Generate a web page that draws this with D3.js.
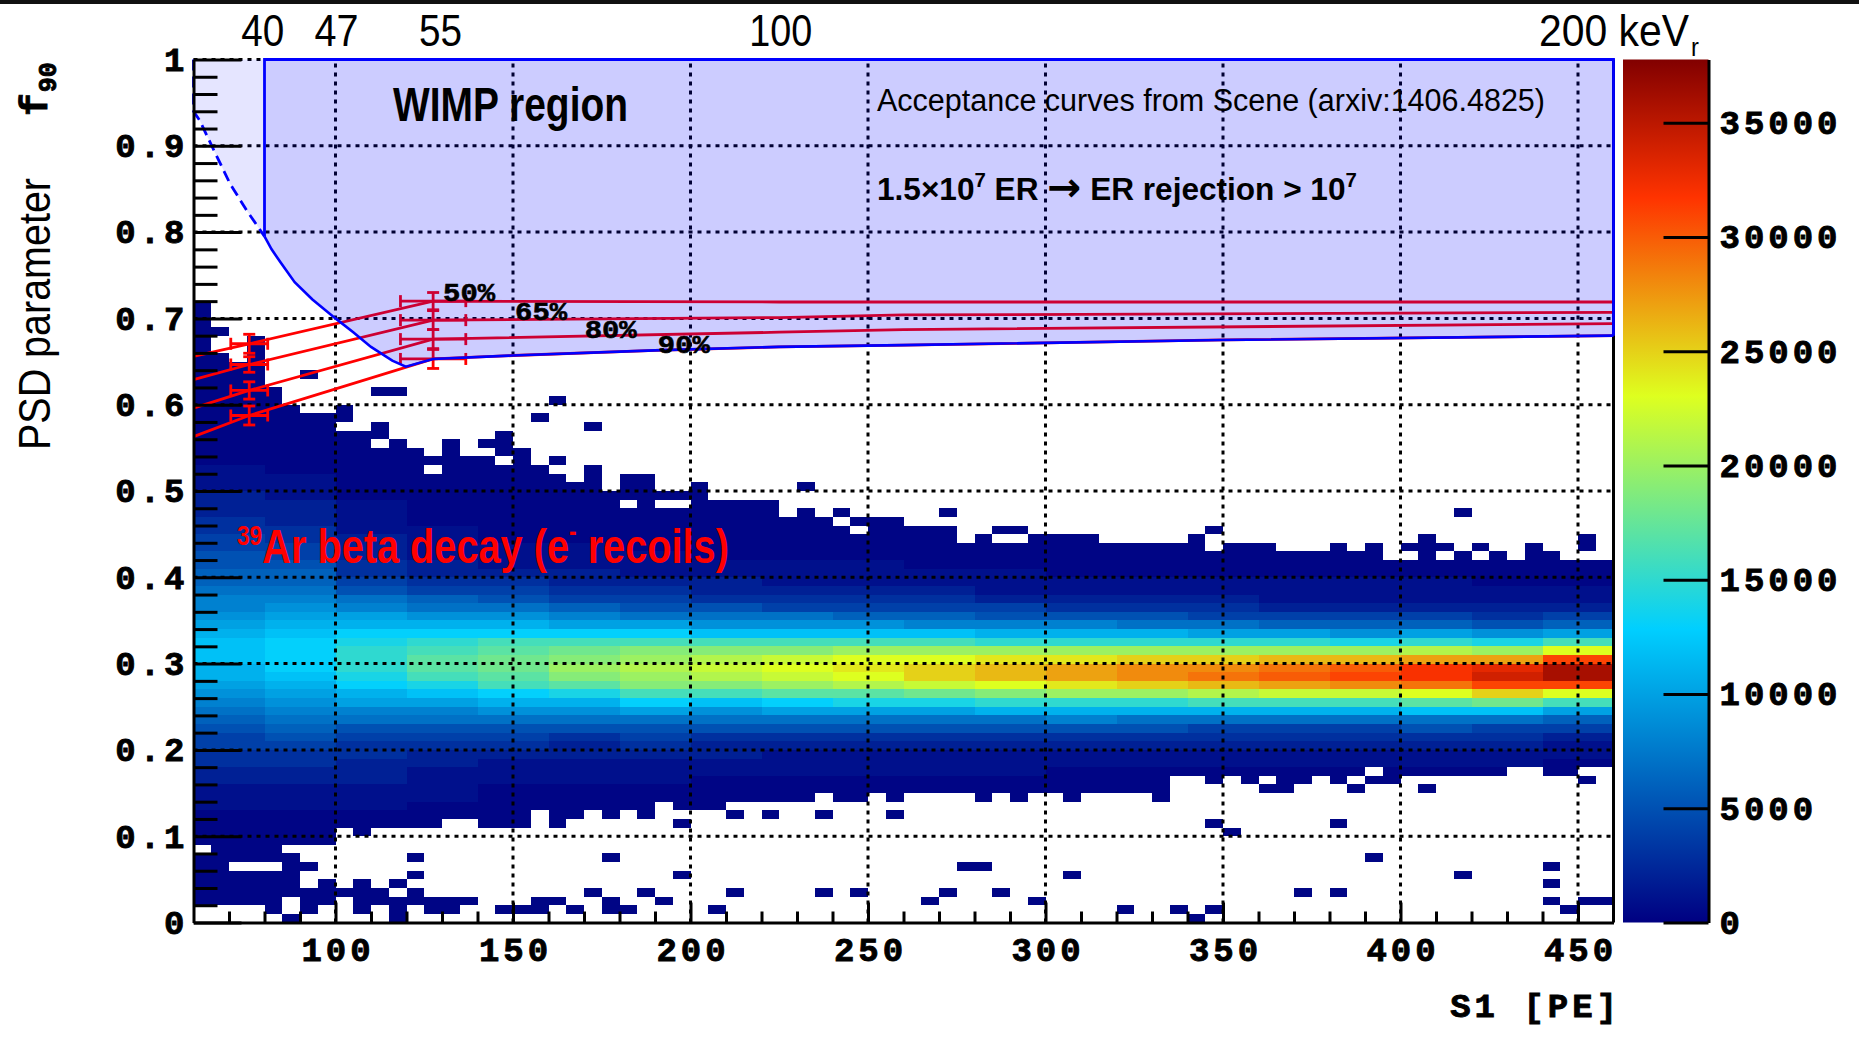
<!DOCTYPE html>
<html>
<head>
<meta charset="utf-8">
<script src="https://cdn.jsdelivr.net/npm/d3@7/dist/d3.min.js"></script>
<style>
html,body{margin:0;padding:0;background:#fff;}
svg{display:block;}
</style>
</head>
<body>
<svg id="chart" width="1859" height="1055" xmlns="http://www.w3.org/2000/svg"></svg>
<script>
// ================= DATA =================
const s1Domain = [60, 460];
const f90Domain = [0, 1];
const s1BinWidth = 5;
const f90BinWidth = 0.01;
const nS1Bins = 80;
const nF90Bins = 100;

const xTickValues = [100, 150, 200, 250, 300, 350, 400, 450];
const yTickValues = [0, 0.1, 0.2, 0.3, 0.4, 0.5, 0.6, 0.7, 0.8, 0.9, 1];
const yGridValues = [0.1, 0.2, 0.3, 0.4, 0.5, 0.6, 0.7, 0.8, 0.9];
const colorTickValues = [0, 5000, 10000, 15000, 20000, 25000, 30000, 35000];
const colorMax = 37770;

// ROOT-like palette stops
const paletteStops = [0, 0.34, 0.61, 0.84, 1.0];
const paletteColors = ["rgb(0,0,130)", "rgb(0,207,255)", "rgb(222,255,31)", "rgb(255,51,0)", "rgb(130,0,0)"];

// Upper / lower edge (highest / lowest filled f90 bin index) of the ER band, per S1 bin
const bandTop = [71,65,64,67,61,59,58,58,59,56,57,55,54,53,55,53,55,56,54,52,
                 51,50,52,49,51,51,49,49,50,48,48,48,48,46,47,46,47,46,46,46,
                 45,45,45,43,44,45,45,44,44,44,44,43,43,43,43,43,44,45,43,43,
                 43,42,42,42,43,42,43,41,43,44,43,42,43,42,41,43,42,41,44,41];
const bandBottom = [9,9,9,9,9,9,9,9,11,10,11,11,11,11,12,12,11,11,11,13,
                    11,12,13,12,13,12,14,13,13,13,14,14,14,14,14,15,14,14,15,14,
                    15,15,15,15,14,15,14,15,15,14,15,15,15,15,14,17,17,16,17,16,
                    15,15,16,17,16,15,16,16,17,17,17,17,17,17,18,18,17,17,18,18];

// Empty bins inside the band [s1Bin, f90Bin]
const holeCells = [[8,57],[10,55],[13,52],[16,54],[17,53],[24,48],[26,48],[27,48],[36,46],[37,45],
                   [45,44],[46,44],[57,44],[57,43],[68,42],[70,42],[72,42],[78,42],[60,16],[65,16],[66,17]];

// Isolated filled bins outside the band [s1Bin, f90Bin]
const extraCells = [
  [1,68],[6,63],[10,61],[11,61],[19,58],[20,60],[20,53],[22,57],[34,50],[42,47],[71,47],
  [69,15],[78,16],[30,12],[32,12],[35,12],[39,12],[27,11],[57,11],[64,11],[58,10],
  [1,8],[2,8],[3,8],[4,8],
  [0,7],[1,7],[2,7],[3,7],[4,7],[5,7],[12,7],[23,7],[66,7],
  [0,6],[1,6],[5,6],[6,6],[43,6],[44,6],[76,6],
  [0,5],[1,5],[2,5],[3,5],[4,5],[5,5],[12,5],[27,5],[49,5],[71,5],
  [0,4],[1,4],[2,4],[3,4],[4,4],[5,4],[7,4],[9,4],[11,4],[76,4],
  [0,3],[1,3],[2,3],[3,3],[4,3],[5,3],[6,3],[7,3],[8,3],[9,3],[10,3],[12,3],[22,3],[25,3],[30,3],[35,3],[37,3],[42,3],[45,3],[62,3],[64,3],
  [0,2],[1,2],[2,2],[3,2],[4,2],[6,2],[7,2],[9,2],[10,2],[11,2],[12,2],[13,2],[14,2],[15,2],[19,2],[20,2],[23,2],[26,2],[41,2],[47,2],[76,2],[78,2],[79,2],
  [4,1],[6,1],[9,1],[11,1],[13,1],[14,1],[17,1],[18,1],[19,1],[21,1],[23,1],[24,1],[29,1],[52,1],[55,1],[57,1],[77,1],
  [5,0],[11,0],[56,0]
];

// Band core counts in thousands (one char per group of 4 S1 bins), rows from f90 bin 52 down to 13
const levelChars = "0123456789abcdefghijklmnopqrstuvwxyzAB";
const coreTopBin = 52;
const coreGroupBins = 4;
const coreRows = [
  "10000000000000000000", // 52
  "11000000000000000000",
  "11000000000000000000", // 50
  "21000000000000000000",
  "22100000000000000000",
  "22100000000000000000",
  "32100000000000000000",
  "33110000000000000000", // 45
  "43210000000000000000",
  "44211100000000000000",
  "54211110000000000000",
  "55321111110000000000",
  "66322211111100000000", // 40
  "66433222111111111100",
  "77544332222111111111",
  "88765443333222211111",
  "89877655444433322222",
  "9aa99877766555444434", // 35
  "abbbbaa9998887766656",
  "bcdddddccccbbbaa9a9a",
  "cdefgggggggfffffefeg",
  "cdfghijjjkkkkkkkklkn",
  "cdfhijklmnnooppqqrrv", // 30
  "bdfhiklmnopqrsstuwxA",
  "bceghjklmnpqrstuvwyA",
  "abdeghjjklmnopqrstvv",
  "9abcdegghhijkklmmnpn",
  "89aabbdcdeefffggghig", // 25
  "788899a9aaabbbbbbcca",
  "67777777777787777776",
  "56555555555555444544",
  "45444343333333333332",
  "44333232222222222221", // 20
  "33322222111111111111",
  "33221111111111111110",
  "22211111111100000000",
  "22211110000000000000",
  "11110000000000000000", // 15
  "11110000000000000000",
  "11100000000000000000"  // 13
];
const lowCount = 300;

// Acceptance curves (S1, f90)
const accLabels = ["50%", "65%", "80%", "90%"];
const accCurves = [
  [[60,0.656],[75.7,0.6706],[127.5,0.720],[225,0.719],[460,0.719]],
  [[60,0.629],[75.7,0.6466],[127.5,0.698],[225,0.701],[260,0.704],[460,0.707]],
  [[60,0.596],[75.7,0.6165],[127.5,0.676],[225,0.684],[260,0.687],[460,0.694]],
  [[60,0.563],[75.7,0.5875],[127.5,0.653],[150,0.657],[190,0.663],[225,0.667],[260,0.669],[350,0.675],[460,0.680]]
];
// Measured acceptance points with errors
const accPointS1 = [75.7, 127.5];
const accPointS1Err = [5.2, 9.2];
const accPointF90 = [[0.6706,0.6466,0.6165,0.5875],[0.720,0.698,0.676,0.653]];
const accPointF90Err = [[0.011,0.009,0.010,0.011],[0.010,0.011,0.011,0.011]];
const accLabelPos = [[130.3,0.7197],[150.6,0.6976],[170.2,0.6773],[190.8,0.6599]];

// WIMP region boundary (solid, S1 >= 80) and extrapolated dashed part
const wimpBoundary = [[80,0.795],[82,0.780],[84.5,0.765],[88.5,0.742],[93.5,0.722],[100,0.700],[105,0.684],
  [110,0.667],[116,0.651],[119.8,0.644],[127.5,0.653],[150,0.657],[190,0.663],[225,0.667],[260,0.669],[350,0.675],[460,0.680]];
const wimpDashed = [[60,1.0],[60,0.94],[61.8,0.929],[65.6,0.896],[70.3,0.856],[75,0.825],[80,0.795]];
const wimpThresholdS1 = 80;

// Recoil energy labels on top (keVr) at S1 positions
const energyLabels = ["40", "47", "55", "100"];
const energyLabelS1 = [79.5, 100.3, 129.6, 225.4];

// ================= DRAW =================
const SANS = "'Liberation Sans', Arial, Helvetica, sans-serif";
const MONO = "'Liberation Mono', 'Courier New', monospace";

const svg = d3.select("#chart");
svg.append("rect").attr("width", 1859).attr("height", 1055).attr("fill", "#fff");
svg.append("rect").attr("x", 0).attr("y", 0).attr("width", 1859).attr("height", 4).attr("fill", "#111");

const x = d3.scaleLinear().domain(s1Domain).range([193.5, 1613.5]);
const y = d3.scaleLinear().domain(f90Domain).range([922.5, 59.5]);
const color = d3.scaleLinear().domain(paletteStops.map(s => s * colorMax)).range(paletteColors).clamp(true);
const cy = d3.scaleLinear().domain([0, colorMax]).range([922.5, 59.5]);

// ---- histogram cells
const holeSet = new Set(holeCells.map(d => d[0] + "," + d[1]));
const extraSet = new Set(extraCells.map(d => d[0] + "," + d[1]));
const cells = [];
for (let i = 0; i < nS1Bins; i++) {
  for (let j = 0; j < nF90Bins; j++) {
    const key = i + "," + j;
    const inBand = j >= bandBottom[i] && j <= bandTop[i] && !holeSet.has(key);
    if (!inBand && !extraSet.has(key)) continue;
    let count = lowCount;
    const r = coreTopBin - j;
    if (r >= 0 && r < coreRows.length) {
      const lv = levelChars.indexOf(coreRows[r][Math.floor(i / coreGroupBins)]);
      if (lv > 0) count = lv * 1000;
    }
    cells.push({ s1: s1Domain[0] + i * s1BinWidth, f90: j * f90BinWidth, count });
  }
}
svg.append("g").attr("shape-rendering", "crispEdges")
  .selectAll("rect").data(cells).join("rect")
  .attr("x", d => x(d.s1))
  .attr("y", d => y(d.f90 + f90BinWidth))
  .attr("width", d => x(d.s1 + s1BinWidth) - x(d.s1))
  .attr("height", d => y(d.f90) - y(d.f90 + f90BinWidth))
  .attr("fill", d => color(d.count));

// ---- grid
const grid = svg.append("g").attr("stroke", "#000").attr("stroke-width", 3).attr("stroke-dasharray", "4,5").attr("fill", "none");
grid.selectAll("line.gv").data(xTickValues).join("line").attr("class", "gv")
  .attr("x1", d => x(d)).attr("x2", d => x(d)).attr("y1", y(0)).attr("y2", y(1));
grid.selectAll("line.gh").data(yGridValues).join("line").attr("class", "gh")
  .attr("x1", x(60)).attr("x2", x(460)).attr("y1", d => y(d)).attr("y2", d => y(d));
grid.append("line").attr("x1", x(60)).attr("x2", x(wimpThresholdS1)).attr("y1", y(1)).attr("y2", y(1));

// ---- acceptance curves
const line = d3.line().x(d => x(d[0])).y(d => y(d[1]));
const red = "#ff0000";
svg.append("g").selectAll("path").data(accCurves).join("path")
  .attr("d", line).attr("fill", "none").attr("stroke", red).attr("stroke-width", 2.8);
const eb = svg.append("g").attr("stroke", red).attr("stroke-width", 2.8);
accPointS1.forEach((s, p) => {
  accPointF90[p].forEach((v, c) => {
    const e = accPointF90Err[p][c], ds = accPointS1Err[p];
    const xl = x(s - ds), xr = x(s + ds), xc = x(s), yc = y(v), yt = y(v + e), yb = y(v - e);
    eb.append("line").attr("x1", xl).attr("x2", xr).attr("y1", yc).attr("y2", yc);
    eb.append("line").attr("x1", xl).attr("x2", xl).attr("y1", yc - 6).attr("y2", yc + 6);
    eb.append("line").attr("x1", xr).attr("x2", xr).attr("y1", yc - 6).attr("y2", yc + 6);
    eb.append("line").attr("x1", xc).attr("x2", xc).attr("y1", yt).attr("y2", yb);
    eb.append("line").attr("x1", xc - 6).attr("x2", xc + 6).attr("y1", yt).attr("y2", yt);
    eb.append("line").attr("x1", xc - 6).attr("x2", xc + 6).attr("y1", yb).attr("y2", yb);
  });
});

// ---- WIMP region overlays
const lightPoly = [[60,1],[wimpThresholdS1,1]].concat(wimpDashed.slice().reverse().slice(0, -1));
svg.append("path").attr("d", line(lightPoly) + "Z").attr("fill", "rgba(0,0,255,0.1)").attr("stroke", "none");
const mainPoly = [[wimpThresholdS1,1],[460,1]].concat(wimpBoundary.slice().reverse());
svg.append("path").attr("d", line(mainPoly) + "Z").attr("fill", "rgba(0,0,255,0.2)").attr("stroke", "none");

// frame right side
svg.append("line").attr("x1", x(460)).attr("x2", x(460)).attr("y1", y(0)).attr("y2", y(1)).attr("stroke", "#000").attr("stroke-width", 3);

const blue = "#0000ff";
svg.append("path").attr("d", line(wimpBoundary)).attr("fill", "none").attr("stroke", blue).attr("stroke-width", 2.6);
svg.append("path").attr("d", line([[wimpThresholdS1, 0.795],[wimpThresholdS1,1],[460,1],[460,0.680]]))
  .attr("fill", "none").attr("stroke", blue).attr("stroke-width", 2.8);
svg.append("path").attr("d", line(wimpDashed)).attr("fill", "none").attr("stroke", blue).attr("stroke-width", 2.8).attr("stroke-dasharray", "11,6");

// ---- axes
function styleTickText(sel, size) {
  sel.attr("font-family", MONO).attr("font-weight", "bold").attr("font-size", size)
    .attr("letter-spacing", 4).attr("fill", "#000").attr("stroke", "#000").attr("stroke-width", 0.9);
}
const fmtY = v => (v === 0 ? "0" : v === 1 ? "1" : v.toFixed(1));
const gy = svg.append("g").attr("transform", `translate(${x(60)},0)`)
  .call(d3.axisLeft(y).tickValues(yTickValues).tickSizeInner(-48).tickSizeOuter(0).tickPadding(5).tickFormat(fmtY));
gy.select(".domain").attr("stroke", "#000").attr("stroke-width", 3);
gy.selectAll(".tick line").attr("stroke", "#000").attr("stroke-width", 3);
styleTickText(gy.selectAll(".tick text"), 34);
const yMinor = d3.range(0, 1.0001, 0.02).filter(v => Math.abs(Math.round(v * 10) - v * 10) > 1e-6);
const gym = svg.append("g").attr("transform", `translate(${x(60)},0)`)
  .call(d3.axisLeft(y).tickValues(yMinor).tickSizeInner(-24).tickSizeOuter(0).tickFormat(""));
gym.select(".domain").remove();
gym.selectAll(".tick line").attr("stroke", "#000").attr("stroke-width", 3);

const gx = svg.append("g").attr("transform", `translate(0,${y(0)})`)
  .call(d3.axisBottom(x).tickValues(xTickValues).tickSizeInner(-20).tickSizeOuter(0).tickFormat(d3.format("d")));
gx.select(".domain").attr("stroke", "#000").attr("stroke-width", 3);
gx.selectAll(".tick line").attr("stroke", "#000").attr("stroke-width", 3);
styleTickText(gx.selectAll(".tick text"), 34);
gx.selectAll(".tick text").attr("y", 38).attr("dy", 0).attr("dx", 2);
const xMinor = d3.range(70, 460, 10).filter(v => v % 50 !== 0);
const gxm = svg.append("g").attr("transform", `translate(0,${y(0)})`)
  .call(d3.axisBottom(x).tickValues(xMinor).tickSizeInner(-11).tickSizeOuter(0).tickFormat(""));
gxm.select(".domain").remove();
gxm.selectAll(".tick line").attr("stroke", "#000").attr("stroke-width", 3);

// ---- color bar
const defs = svg.append("defs");
const grad = defs.append("linearGradient").attr("id", "pal").attr("x1", 0).attr("y1", 1).attr("x2", 0).attr("y2", 0);
paletteStops.forEach((s, k) => grad.append("stop").attr("offset", s).attr("stop-color", paletteColors[k]));
svg.append("rect").attr("x", 1623).attr("y", cy(colorMax)).attr("width", 1708.5 - 1623)
  .attr("height", cy(0) - cy(colorMax)).attr("fill", "url(#pal)");
const gc = svg.append("g").attr("transform", "translate(1708.5,0)")
  .call(d3.axisRight(cy).tickValues(colorTickValues).tickSizeInner(-45).tickSizeOuter(0).tickPadding(11).tickFormat(d3.format("d")));
gc.select(".domain").attr("stroke", "#000").attr("stroke-width", 3);
gc.selectAll(".tick line").attr("stroke", "#000").attr("stroke-width", 3);
styleTickText(gc.selectAll(".tick text"), 34);

// ---- texts
function txt(str, o) {
  const t = svg.append("text").attr("x", o.x).attr("y", o.y)
    .attr("font-family", o.family || SANS).attr("font-size", o.size)
    .attr("font-weight", o.weight || "normal").attr("fill", o.fill || "#000")
    .attr("text-anchor", o.anchor || "start").text(str);
  if (o.length) t.attr("textLength", o.length).attr("lengthAdjust", "spacingAndGlyphs");
  if (o.transform) t.attr("transform", o.transform);
  if (o.ls) t.attr("letter-spacing", o.ls);
  if (o.stroke) t.attr("stroke", o.fill || "#000").attr("stroke-width", o.stroke);
  return t;
}

// top energy labels
const energyLabelWidth = [43, 44, 43, 63];
energyLabels.forEach((lab, k) => txt(lab, { x: x(energyLabelS1[k]), y: 46, size: 45, anchor: "middle", length: energyLabelWidth[k] }));
// "200 keV" with subscript r, as one text
const kev = svg.append("text").attr("x", 0).attr("y", 0).attr("font-family", SANS).attr("font-size", 45).attr("fill", "#000");
kev.append("tspan").text("200 keV");
kev.append("tspan").attr("font-size", 26).attr("dy", 10).attr("dx", 2).text("r");
{
  const w = kev.node().getComputedTextLength();
  kev.attr("transform", `translate(1539,46) scale(${158 / w},1)`);
}

// axis titles
txt("S1  [PE]", { x: 1621, y: 1017, size: 34, family: MONO, weight: "bold", anchor: "end", ls: 4, stroke: 0.9 });
txt("PSD parameter", { x: 0, y: 0, size: 44, anchor: "middle", length: 272, transform: "translate(50,314) rotate(-90)" });
const f90t = svg.append("text").attr("transform", "translate(47,116) rotate(-90)")
  .attr("font-family", MONO).attr("font-weight", "bold").attr("font-size", 38).attr("fill", "#000")
  .attr("stroke", "#000").attr("stroke-width", 0.9);
f90t.append("tspan").text("f");
f90t.append("tspan").attr("font-size", 25).attr("dy", 9).attr("dx", 1).text("90");

// annotations
txt("WIMP region", { x: 393, y: 121, size: 48, weight: "bold", length: 235 });
txt("Acceptance curves from Scene (arxiv:1406.4825)", { x: 877, y: 111, size: 31, length: 668 });
const rej = svg.append("text").attr("x", 877).attr("y", 200).attr("font-family", SANS)
  .attr("font-weight", "bold").attr("font-size", 31).attr("fill", "#000");
rej.append("tspan").text("1.5\u00d710");
rej.append("tspan").attr("font-size", 20).attr("dy", -13).text("7");
rej.append("tspan").attr("dy", 13).text(" ER ");
rej.append("tspan").attr("font-family", "'DejaVu Sans', sans-serif").attr("font-size", 40).attr("dy", 1).text("\u2192");
rej.append("tspan").attr("dy", -1).text(" ER rejection > 10");
rej.append("tspan").attr("font-size", 20).attr("dy", -13).text("7");
{
  const w = rej.node().getComputedTextLength();
  rej.attr("x", 0).attr("y", 0).attr("transform", `translate(877,200) scale(${480 / w},1)`);
}

// acceptance labels
accLabels.forEach((lab, k) => txt(lab, { x: x(accLabelPos[k][0]), y: y(accLabelPos[k][1]), size: 26,
  family: MONO, weight: "bold", length: 52, stroke: 0.6 }));

// 39Ar label (one text, fitted to the reference width)
const ar = svg.append("text").attr("x", 0).attr("y", 0).attr("font-family", SANS)
  .attr("font-weight", "bold").attr("font-size", 49).attr("fill", "#ff0000");
ar.append("tspan").attr("font-size", 28).attr("dy", -18).text("39");
ar.append("tspan").attr("dy", 18).text("Ar beta decay (e");
ar.append("tspan").attr("font-size", 28).attr("dy", -22).text("-");
ar.append("tspan").attr("dy", 22).text(" recoils)");
{
  const w = ar.node().getComputedTextLength();
  ar.attr("transform", `translate(237,563) scale(${492 / w},1)`);
}
</script>
</body>
</html>
